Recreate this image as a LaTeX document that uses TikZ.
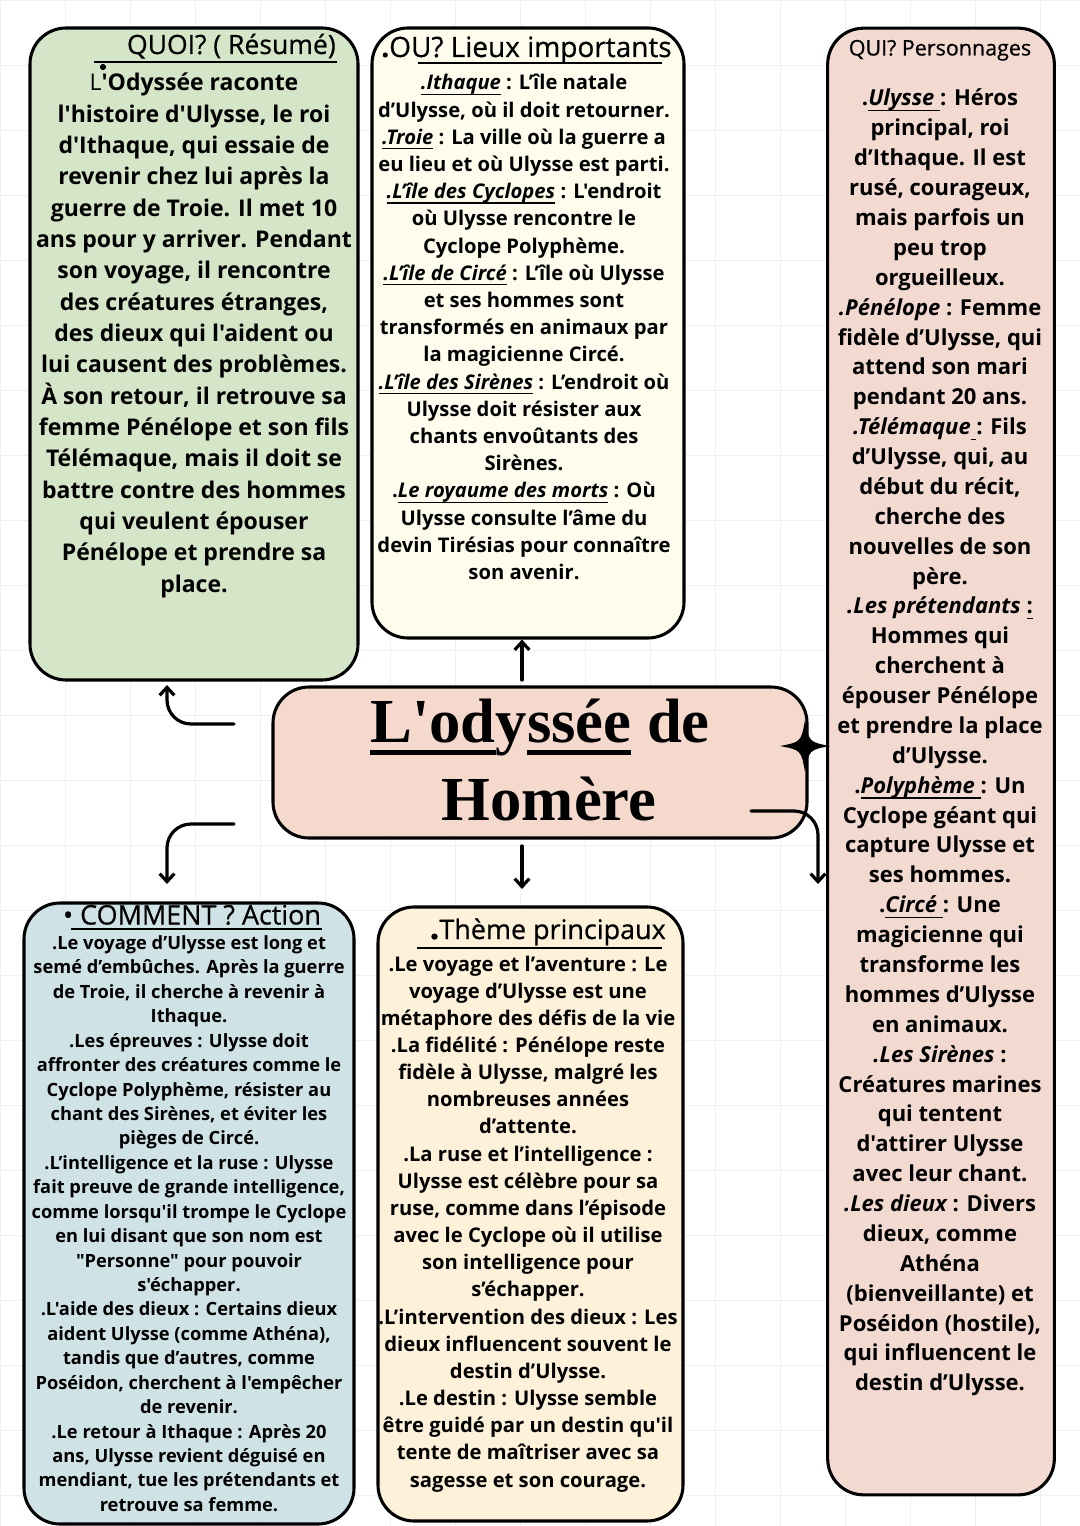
\documentclass[tikz,border=0pt]{standalone}
\usepackage{fontspec}
\setmainfont{Open Sans}[Ligatures=TeXOff]
\newfontfamily\headfont{Open Sans}[Ligatures=TeXOff,FakeBold=0.6]
\newfontfamily\titlefont{Liberation Serif}[Ligatures=TeXOff]
\usetikzlibrary{arrows.meta}
\definecolor{cgreen}{RGB}{213,229,200}
\definecolor{ccream}{RGB}{254,252,236}
\definecolor{cpink}{RGB}{243,218,209}
\definecolor{ccenter}{RGB}{245,217,204}
\definecolor{cblue}{RGB}{207,226,229}
\definecolor{cpeach}{RGB}{253,241,218}
\newcommand{\ulx}[1]{\leavevmode\setbox0=\hbox{#1}\rlap{\raisebox{-0.24em}{\rule{\wd0}{0.065em}}}\box0\relax}
\newcommand{\titleul}[1]{\leavevmode\setbox0=\hbox{#1}\rlap{\raisebox{-0.2em}{\rule{\wd0}{0.075em}}}\box0\relax}
\newcommand{\txtlines}[1]{\begin{tabular}[t]{@{}c@{}}#1\end{tabular}}
\newcommand{\fquoi}{\fontsize{17.25pt}{23.5pt}\selectfont\bfseries}
\newcommand{\fou}{\fontsize{15.15pt}{20.4pt}\selectfont\bfseries}
\newcommand{\fqui}{\fontsize{16.5pt}{22.41pt}\selectfont\bfseries}
\newcommand{\fcomment}{\fontsize{13.7pt}{18.32pt}\selectfont\bfseries}
\newcommand{\ftheme}{\fontsize{15.15pt}{20.37pt}\selectfont\bfseries}
\begin{document}
\begin{tikzpicture}[x=0.75pt,y=-0.75pt,
  box/.style={draw=black, line width=2.3pt, rounded corners=27pt, inner sep=0pt},
  arr/.style={line width=2.4pt, -{Straight Barb[length=6pt,width=11pt]}, line cap=round},
  txt/.style={inner sep=0pt, anchor=base},
  gridline/.style={draw=black!6, line width=0.6pt}]
\useasboundingbox (0,0) rectangle (1080,1526);
\fill[white] (0,0) rectangle (1080,1526);
\foreach \i in {0,65,...,1080} \draw[gridline] (\i,0) -- (\i,1526);
\foreach \j in {0,65,...,1526} \draw[gridline] (0,\j) -- (1080,\j);

% boxes
\node[box, fill=cgreen, minimum width=246pt, minimum height=489pt] (quoi) at (194,354) {};
\node[box, fill=ccream, minimum width=234pt, minimum height=457.5pt] (ou) at (528,333) {};
\node[box, fill=cpink, minimum width=170pt, minimum height=1100pt] (qui) at (941,761.5) {};
\node[box, fill=ccenter, minimum width=400.5pt, minimum height=113.25pt] (center) at (540,762.5) {};
\node[box, fill=cblue, minimum width=247.5pt, minimum height=465.75pt] (comment) at (189,1213.5) {};
\node[box, fill=cpeach, minimum width=228.75pt, minimum height=460.5pt] (theme) at (530.5,1214) {};

% titles
\node[txt, anchor=base east, font=\headfont\fontsize{19.9pt}{24pt}\selectfont] (quoititle) at (336,54) {QUOI? ( Résumé)};
\draw[line width=2.2pt] (94,62) -- (337,62);
\fill (103,67) circle (2.3pt);
\node[txt, anchor=base west, font=\headfont\fontsize{21pt}{24pt}\selectfont] (outitle) at (381,57) {{\bfseries .}OU? Lieux importants};
\draw[line width=2.2pt] (418,63) -- (662,63);
\node[txt, font=\headfont\fontsize{16.1pt}{20pt}\selectfont] (quititle) at (940,55.5) {QUI? Personnages};
\node[txt, font=\headfont\fontsize{20.2pt}{24pt}\selectfont] (commenttitle) at (192,924.5) {• COMMENT ? Action};
\draw[line width=1.8pt] (71,929) -- (322,929);
\node[txt, anchor=base east, font=\headfont\fontsize{20.2pt}{24pt}\selectfont] (themetitle) at (666,939) {{\fontsize{26pt}{26pt}\selectfont\bfseries .}Thème principaux};
\draw[line width=1.8pt] (417,948) -- (662,948);

% central title
\node[txt, font=\titlefont\bfseries\fontsize{47pt}{50pt}\selectfont] (title1) at (540,742) {\titleul{L'od}y\titleul{ssée} de};
\node[txt, font=\titlefont\bfseries\fontsize{47pt}{50pt}\selectfont] (title2) at (549,820) {Homère};
\fill (805,720) .. controls (809,742) .. (830,746) .. controls (809,750) .. (805,772) .. controls (801,750) .. (780,746) .. controls (801,742) .. (805,720) -- cycle;

% bodies
\node[txt, font=\fquoi] (quoibody) at (194,91) {\txtlines{%
{\mdseries L}'Odyssée raconte\\
l'histoire d'Ulysse, le roi\\
d'Ithaque, qui essaie de\\
revenir chez lui après la\\
guerre de Troie. Il met 10\\
ans pour y arriver. Pendant\\
son voyage, il rencontre\\
des créatures étranges,\\
des dieux qui l'aident ou\\
lui causent des problèmes.\\
À son retour, il retrouve sa\\
femme Pénélope et son fils\\
Télémaque, mais il doit se\\
battre contre des hommes\\
qui veulent épouser\\
Pénélope et prendre sa\\
place.}};

\node[txt, font=\fou] (oubody) at (524,90) {\txtlines{%
\ulx{\itshape .Ithaque} : L’île natale\\
d’Ulysse, où il doit retourner.\\
\ulx{\itshape .Troie} : La ville où la guerre a\\
eu lieu et où Ulysse est parti.\\
\ulx{\itshape .L’île des Cyclopes} : L'endroit\\
où Ulysse rencontre le\\
Cyclope Polyphème.\\
\ulx{\itshape .L’île de Circé} : L’île où Ulysse\\
et ses hommes sont\\
transformés en animaux par\\
la magicienne Circé.\\
\ulx{\itshape .L’île des Sirènes} : L’endroit où\\
Ulysse doit résister aux\\
chants envoûtants des\\
Sirènes.\\
.\ulx{\itshape Le royaume des morts} : Où\\
Ulysse consulte l’âme du\\
devin Tirésias pour connaître\\
son avenir.}};

\node[txt, font=\fqui] (quibody) at (940,106) {\txtlines{%
.\ulx{\itshape Ulysse }: Héros\\
principal, roi\\
d’Ithaque. Il est\\
rusé, courageux,\\
mais parfois un\\
peu trop\\
orgueilleux.\\
{\itshape .Pénélope} : Femme\\
fidèle d’Ulysse, qui\\
attend son mari\\
pendant 20 ans.\\
{\itshape .Télémaque}\ulx{\ }: Fils\\
d’Ulysse, qui, au\\
début du récit,\\
cherche des\\
nouvelles de son\\
père.\\
{\itshape .Les prétendants} \ulx{:}\\
Hommes qui\\
cherchent à\\
épouser Pénélope\\
et prendre la place\\
d’Ulysse.\\
.\ulx{\itshape Polyphème }: Un\\
Cyclope géant qui\\
capture Ulysse et\\
ses hommes.\\
.\ulx{\itshape Circé }: Une\\
magicienne qui\\
transforme les\\
hommes d’Ulysse\\
en animaux.\\
{\itshape .Les Sirènes} :\\
Créatures marines\\
qui tentent\\
d'attirer Ulysse\\
avec leur chant.\\
{\itshape .Les dieux} : Divers\\
dieux, comme\\
Athéna\\
(bienveillante) et\\
Poséidon (hostile),\\
qui influencent le\\
destin d’Ulysse.}};

\node[txt, font=\fcomment] (commentbody) at (189,949.5) {\txtlines{%
.Le voyage d’Ulysse est long et\\
semé d’embûches. Après la guerre\\
de Troie, il cherche à revenir à\\
Ithaque.\\
.Les épreuves : Ulysse doit\\
affronter des créatures comme le\\
Cyclope Polyphème, résister au\\
chant des Sirènes, et éviter les\\
pièges de Circé.\\
.L’intelligence et la ruse : Ulysse\\
fait preuve de grande intelligence,\\
comme lorsqu'il trompe le Cyclope\\
en lui disant que son nom est\\
"Personne" pour pouvoir\\
s'échapper.\\
.L'aide des dieux : Certains dieux\\
aident Ulysse (comme Athéna),\\
tandis que d’autres, comme\\
Poséidon, cherchent à l'empêcher\\
de revenir.\\
.Le retour à Ithaque : Après 20\\
ans, Ulysse revient déguisé en\\
mendiant, tue les prétendants et\\
retrouve sa femme.}};

\node[txt, font=\ftheme] (themebody) at (528,971) {\txtlines{%
.Le voyage et l’aventure : Le\\
voyage d’Ulysse est une\\
métaphore des défis de la vie\\
.La fidélité : Pénélope reste\\
fidèle à Ulysse, malgré les\\
nombreuses années\\
d’attente.\\
.La ruse et l’intelligence :\\
Ulysse est célèbre pour sa\\
ruse, comme dans l’épisode\\
avec le Cyclope où il utilise\\
son intelligence pour\\
s’échapper.\\
.L’intervention des dieux : Les\\
dieux influencent souvent le\\
destin d’Ulysse.\\
.Le destin : Ulysse semble\\
être guidé par un destin qu'il\\
tente de maîtriser avec sa\\
sagesse et son courage.}};

% connectors
\coordinate (upS) at (522,680);
\draw[arr] (upS) -- (upS |- ou.south);
\coordinate (dnS) at (522,846);
\coordinate (dnE) at (522,889);
\draw[arr] (dnS) -- (dnE);
\coordinate (lt1) at (234,724);
\coordinate (lt2) at (167,685);
\draw[arr, rounded corners=18pt] (lt1) -| (lt2);
\coordinate (lb1) at (234,824);
\coordinate (lb2) at (167,884);
\draw[arr, rounded corners=18pt] (lb1) -| (lb2);
\coordinate (r1) at (751,811);
\coordinate (r2) at (818,884);
\draw[arr, rounded corners=18pt] (r1) -| (r2);
\end{tikzpicture}
\end{document}
